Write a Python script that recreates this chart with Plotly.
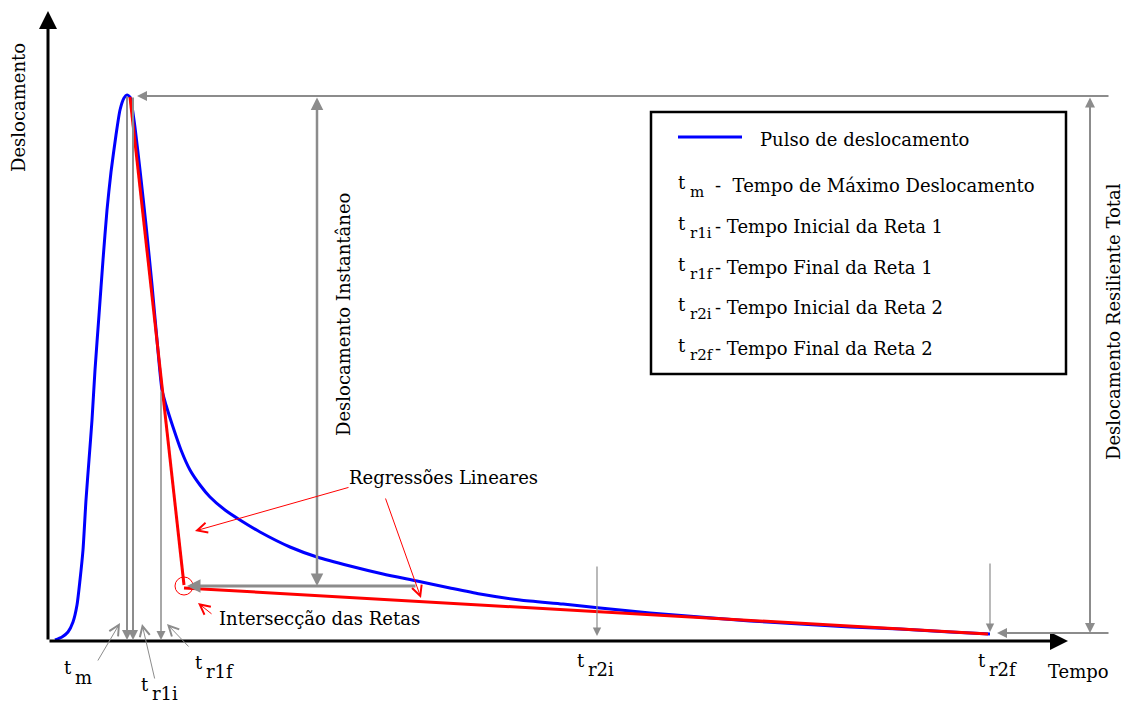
import plotly.graph_objects as go

# ---------------- data (schematic, arbitrary units: time t, displacement d) ----------------
pulse_t = [7, 14, 20, 25, 29, 32, 35, 38, 41, 44, 47, 51, 55, 59, 63, 68, 72, 76, 79,
           82, 86, 92, 98, 104, 109, 114, 118, 125, 133, 142, 152, 162, 177, 192, 212, 242,
           269, 302, 335, 369, 402, 432, 472, 515, 552, 602, 652, 702, 752, 802, 852, 902, 942]
pulse_d = [1, 4, 9, 19, 36, 61, 91, 141, 181, 221, 271, 326, 381, 431, 469, 506, 531, 543, 546,
           544, 521, 471, 416, 356, 301, 251, 236, 214, 191, 171, 156, 144, 131, 121, 109, 94,
           84, 75, 67, 60, 53, 47, 41, 37, 33, 28, 24, 20, 17, 14, 12, 9, 7]

reg1_t = [82, 136]
reg1_d = [544, 56]
reg2_t = [136, 940]
reg2_d = [53, 7]

# characteristic times and displacements
T_M, T_R1I, T_R1F, T_R2I, T_R2F = 79, 85, 113, 549, 942
D_MAX, D_INT, D_END = 545, 55, 8
T_INT = 136

legend_items = [("m", "-  Tempo de Máximo Deslocamento"),
                ("r1i", "- Tempo Inicial da Reta 1"),
                ("r1f", "- Tempo Final da Reta 1"),
                ("r2i", "- Tempo Inicial da Reta 2"),
                ("r2f", "- Tempo Final da Reta 2")]

FONT = "DejaVu Serif"
FS = 18
GREY = "#8c8c8c"
BLUE = "#0000ff"
RED = "#ff0000"

fig = go.Figure()

fig.add_trace(go.Scatter(x=pulse_t, y=pulse_d, mode="lines", line_shape="spline",
                         line=dict(color=BLUE, width=3, smoothing=0.6),
                         name="Pulso de deslocamento"))
fig.add_trace(go.Scatter(x=reg1_t, y=reg1_d, mode="lines",
                         line=dict(color=RED, width=3), name="Reta 1"))
fig.add_trace(go.Scatter(x=reg2_t, y=reg2_d, mode="lines",
                         line=dict(color=RED, width=3), name="Reta 2"))


def arrow(tail, head, color, width, style, size, side="end"):
    fig.add_annotation(x=head[0], y=head[1], ax=tail[0], ay=tail[1],
                       xref="x", yref="y", axref="x", ayref="y", text="",
                       showarrow=True, arrowhead=style, startarrowhead=style,
                       arrowsize=size, startarrowsize=size,
                       arrowwidth=width, arrowcolor=color, arrowside=side)


def text(x, y, s, angle=0, xanchor="center", size=FS):
    fig.add_annotation(x=x, y=y, xref="x", yref="y", text=s, showarrow=False,
                       textangle=angle, xanchor=xanchor, yanchor="middle",
                       font=dict(family=FONT, size=size, color="black"))


def sub_label(x, y, main, sub, dx=11, dy=-10):
    text(x, y, main, xanchor="left")
    text(x + dx, y + dy, sub, xanchor="left")


# axes
arrow((0, 0), (0, 630), "black", 3, 2, 1.2)
arrow((0, 0), (1020, 0), "black", 3, 2, 1.2)

# guide lines
arrow((1062, D_MAX), (89, D_MAX), GREY, 2, 2, 1)
arrow((1042, D_MAX), (1042, D_END), GREY, 2, 2, 1, "end+start")
arrow((1062, D_END), (949, D_END), GREY, 2, 2, 1)
arrow((269, D_MAX), (269, D_INT), GREY, 2.5, 2, 1, "end+start")
arrow((369, D_INT), (T_INT + 3, D_INT), GREY, 3, 2, 0.9)
arrow((T_M, D_MAX + 1), (T_M, 1), GREY, 2, 2, 1)
arrow((T_R1I, D_MAX), (T_R1I, 1), GREY, 2, 2, 1)
arrow((T_R1F, 251), (T_R1F, 1), GREY, 1.5, 2, 1.2)
arrow((T_R2I, 76), (T_R2I, 5), GREY, 1.2, 2, 1.4)
arrow((T_R2F, 79), (T_R2F, 9), GREY, 1.2, 2, 1.4)

# label pointers
arrow((49, -21), (72, 18), GREY, 1, 5, 2)
arrow((107, -39), (94, 17), GREY, 1, 5, 2)
arrow((142, -7), (119, 17), GREY, 1, 5, 2)

# red pointers
arrow((302, 154), (147, 110), RED, 1, 5, 2)
arrow((337, 144), (373, 43), RED, 1, 5, 2)
arrow((165, 26), (150, 38), RED, 1, 5, 2)

# intersection circle
fig.add_shape(type="circle", xref="x", yref="y", x0=T_INT - 9, x1=T_INT + 9,
              y0=D_INT - 9, y1=D_INT + 9, line=dict(color=RED, width=1))

# texts
text(-30, 533, "Deslocamento", angle=-90)
text(1030, -30, "Tempo")
text(295, 326, "Deslocamento Instantâneo", angle=-90)
text(1065, 319, "Deslocamento Resiliente Total", angle=-90)
text(395, 164, "Regressões Lineares")
text(271, 23, "Intersecção das Retas")

sub_label(14, -26, "t", "m")
sub_label(91, -43, "t", "r1i", dy=-9)
sub_label(145, -21, "t", "r1f", dy=-9)
sub_label(527, -19, "t", "r2i", dy=-9)
sub_label(928, -19, "t", "r2f", dy=-9)

# legend box
fig.add_shape(type="rect", xref="x", yref="y", x0=603, x1=1018, y0=267, y1=529,
              line=dict(color="black", width=2.5), fillcolor="rgba(0,0,0,0)")
fig.add_shape(type="line", xref="x", yref="y", x0=630, x1=694, y0=504, y1=504,
              line=dict(color=BLUE, width=3))
text(710, 502, "Pulso de deslocamento", xanchor="left")
row_d = [456, 415, 374, 334, 293]
for (sub, rest), d in zip(legend_items, row_d):
    text(628, d + 3, "t", xanchor="left")
    text(640, d - 7, sub, xanchor="left", size=15)
    text(665, d, rest, xanchor="left")

fig.update_layout(
    width=1126, height=705,
    margin=dict(l=0, r=0, t=0, b=0),
    paper_bgcolor="white", plot_bgcolor="white",
    showlegend=False,
    xaxis=dict(visible=False, range=[-48, 1078], fixedrange=True),
    yaxis=dict(visible=False, range=[-64, 641], fixedrange=True),
)

fig.write_html("out.html")
